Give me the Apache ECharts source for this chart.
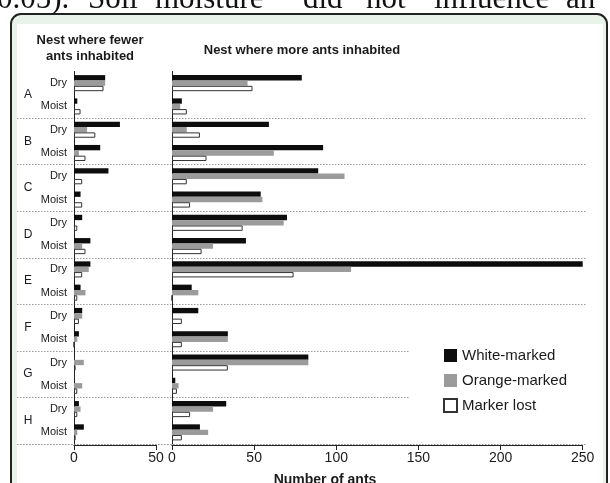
<!DOCTYPE html>
<html>
<head>
<meta charset="utf-8">
<title>ants</title>
<script src="https://cdn.jsdelivr.net/npm/echarts@6/dist/echarts.min.js"></script>
<style>
  html, body { margin: 0; padding: 0; background: #fff; }
  #main { width: 610px; height: 483px; }
</style>
</head>
<body>
<div id="main"></div>
<script>
// rows: each site A-H has a Dry and a Moist row
var groups = ['A', 'B', 'C', 'D', 'E', 'F', 'G', 'H'];
var rows = [];
groups.forEach(function (g) { rows.push(g + ' Dry'); rows.push(g + ' Moist'); });

// nest where fewer ants inhabited
var fewerWhite  = [19, 2, 28, 16, 21, 4, 5, 10, 10, 4, 5, 3, 0, 0, 3, 6];
var fewerOrange = [19, 0, 8, 3, 0, 0, 0, 5, 9, 7, 5, 2, 6, 5, 4, 2];
var fewerLost   = [18, 4, 13, 7, 5, 5, 2, 7, 5, 2, 3, 0, 1, 2, 2, 1];

// nest where more ants inhabited
var moreWhite  = [79, 6, 59, 92, 89, 54, 70, 45, 250, 12, 16, 34, 83, 2, 33, 17];
var moreOrange = [46, 5, 9, 62, 105, 55, 68, 25, 109, 16, 0, 34, 83, 4, 25, 22];
var moreLost   = [49, 9, 17, 21, 9, 11, 43, 18, 74, 0, 6, 6, 34, 3, 11, 6];

var fewerTicks = [0, 50];
var moreTicks = [0, 50, 100, 150, 200, 250];

// the cut-off line of body text above the figure
var topWords = ['0.05).', 'Soil', 'moisture', 'did', 'not', 'influence', 'an'];
var topWordX = [-3, 88, 155, 303, 366, 434, 566];

var font = 'Liberation Sans, Arial, sans-serif';
var ink = '#1a1a1a';

var chart = echarts.init(document.getElementById('main'));

var gridTop = 71.5, gridH = 372.5;

var styles = [
  { name: 'White-marked', color: '#0d0d0d', borderColor: '#0d0d0d', borderWidth: 0 },
  { name: 'Orange-marked', color: '#9b9b9b', borderColor: '#9b9b9b', borderWidth: 0 },
  { name: 'Marker lost', color: '#ffffff', borderColor: '#333333', borderWidth: 1 }
];

function bars(data, idx, s) {
  return {
    name: s.name,
    type: 'bar',
    xAxisIndex: idx,
    yAxisIndex: idx === 0 ? 0 : 2,
    data: data,
    barGap: '0%',
    barCategoryGap: '31%',
    itemStyle: { color: s.color, borderColor: s.borderColor, borderWidth: s.borderWidth },
    silent: true,
    z: 5
  };
}

function valueAxis(grid, max, ticks) {
  return {
    type: 'value', gridIndex: grid, min: 0, max: max, interval: ticks[1] - ticks[0],
    offset: 1,
    axisLine: { show: true, lineStyle: { color: '#222', width: 1 } },
    axisTick: { show: true, length: 5, lineStyle: { color: '#222' } },
    axisLabel: { color: ink, fontSize: 14, fontFamily: font, margin: 6 },
    splitLine: { show: false }
  };
}

function hiddenValue(grid) {
  return { type: 'value', gridIndex: grid, min: 0, max: 1, show: false };
}

function sepAxis(grid, show) {
  return {
    type: 'category', gridIndex: grid, data: groups, inverse: true,
    axisLine: { show: false }, axisTick: { show: false }, axisLabel: { show: false },
    splitLine: {
      show: true,
      interval: function (i) { return show.indexOf(i) >= 0; },
      lineStyle: { color: '#9a9a9a', type: [1.5, 1.5], width: 1 }
    }
  };
}

var graphics = [
  { type: 'rect', shape: { x: 11, y: 14, width: 596, height: 520, r: 10 }, style: { fill: '#eaf3ea', stroke: '#222', lineWidth: 2 }, z: -10 },
  { type: 'rect', shape: { x: 17, y: 24, width: 586, height: 520 }, style: { fill: '#ffffff' }, z: -9 }
];
topWords.forEach(function (w, i) {
  graphics.push({ type: 'text', x: topWordX[i], y: 15, style: { text: w, font: '31px "Liberation Serif", "DejaVu Serif", serif', fill: '#111', textVerticalAlign: 'bottom' }, z: 0 });
});

var option = {
  animation: false,
  backgroundColor: '#ffffff',
  graphic: graphics,
  title: [
    { text: 'Nest where fewer\nants inhabited', left: 85, top: 27, textAlign: 'center',
      textStyle: { fontSize: 13, fontWeight: 'bold', fontFamily: font, color: ink, lineHeight: 16 } },
    { text: 'Nest where more ants inhabited', left: 297, top: 39, textAlign: 'center',
      textStyle: { fontSize: 13, fontWeight: 'bold', fontFamily: font, color: ink } },
    { text: 'Number of ants', left: 320, top: 468, textAlign: 'center',
      textStyle: { fontSize: 14, fontWeight: 'bold', fontFamily: font, color: ink } }
  ],
  legend: {
    orient: 'vertical', left: 438, top: 343,
    itemWidth: 13, itemHeight: 13, itemGap: 10,
    icon: 'rect',
    textStyle: { fontSize: 15, fontFamily: font, color: ink },
    data: styles.map(function (s) { return s.name; })
  },
  grid: [
    { left: 74, width: 82, top: gridTop, height: gridH },
    { left: 172, right: 27.3, top: gridTop, height: gridH },
    { left: 17, right: 23, top: gridTop, height: gridH },
    { left: 17, width: 393, top: gridTop, height: gridH }
  ],
  xAxis: [
    valueAxis(0, 50, fewerTicks),
    valueAxis(1, 250, moreTicks),
    hiddenValue(2),
    hiddenValue(3)
  ],
  yAxis: [
    { type: 'category', gridIndex: 0, data: rows, inverse: true, position: 'left',
      axisLine: { show: true, lineStyle: { color: '#222' } }, axisTick: { show: false },
      axisLabel: { color: ink, fontSize: 11, fontFamily: font, margin: 7,
        formatter: function (v) { return v.split(' ')[1]; } } },
    { type: 'category', gridIndex: 0, data: groups, inverse: true, position: 'left',
      axisLine: { show: false }, axisTick: { show: false },
      axisLabel: { color: ink, fontSize: 12, fontFamily: font, margin: 46, align: 'center' } },
    { type: 'category', gridIndex: 1, data: rows, inverse: true,
      axisLine: { show: true, lineStyle: { color: '#222' } }, axisTick: { show: false },
      axisLabel: { show: false } },
    sepAxis(2, [1, 2, 3, 4, 5]),
    sepAxis(3, [6, 7])
  ],
  series: [
    bars(fewerWhite, 0, styles[0]),
    bars(fewerOrange, 0, styles[1]),
    bars(fewerLost, 0, styles[2]),
    bars(moreWhite, 1, styles[0]),
    bars(moreOrange, 1, styles[1]),
    bars(moreLost, 1, styles[2]),
    { type: 'bar', xAxisIndex: 2, yAxisIndex: 3, data: [], silent: true },
    { type: 'bar', xAxisIndex: 3, yAxisIndex: 4, data: [], silent: true }
  ]
};

chart.setOption(option);
</script>
</body>
</html>
